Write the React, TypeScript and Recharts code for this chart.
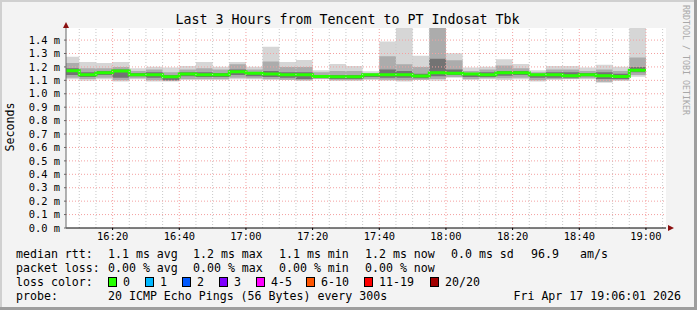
import { ComposedChart, Area, Line, XAxis, YAxis, CartesianGrid, ReferenceLine } from 'recharts';

const FONT = '"DejaVu Sans Mono", monospace';

// 5 minute bins, start time of each
const binStart = [
	'16:05', '16:10', '16:15', '16:20', '16:25', '16:30', '16:35', '16:40', '16:45', '16:50', '16:55',
	'17:00', '17:05', '17:10', '17:15', '17:20', '17:25', '17:30', '17:35', '17:40', '17:45', '17:50', '17:55',
	'18:00', '18:05', '18:10', '18:15', '18:20', '18:25', '18:30', '18:35', '18:40', '18:45', '18:50', '18:55',
];
const binEnd = '19:00';

// rtt in ms
const rttMax = [1.276, 1.236, 1.229, 1.236, 1.191, 1.201, 1.196, 1.206, 1.236, 1.201, 1.236, 1.201, 1.35, 1.236, 1.251, 1.176, 1.221, 1.206, 1.167, 1.39, 1.494, 1.283, 1.494, 1.301, 1.196, 1.201, 1.258, 1.221, 1.176, 1.206, 1.206, 1.196, 1.216, 1.201, 1.49];
const rttHi2 = [1.23, 1.19, 1.19, 1.2, 1.17, 1.18, 1.16, 1.18, 1.19, 1.18, 1.22, 1.18, 1.24, 1.2, 1.2, 1.16, 1.17, 1.17, 1.155, 1.28, 1.22, 1.2, 1.494, 1.25, 1.17, 1.18, 1.21, 1.19, 1.16, 1.18, 1.18, 1.17, 1.18, 1.17, 1.27];
const rttHi3 = [1.19, 1.16, 1.17, 1.18, 1.155, 1.16, 1.14, 1.16, 1.16, 1.155, 1.18, 1.16, 1.17, 1.16, 1.16, 1.14, 1.14, 1.14, 1.148, 1.18, 1.17, 1.15, 1.26, 1.18, 1.155, 1.16, 1.17, 1.17, 1.15, 1.16, 1.16, 1.155, 1.16, 1.15, 1.2];
const rttMedian = [1.171, 1.142, 1.157, 1.169, 1.142, 1.142, 1.127, 1.147, 1.142, 1.142, 1.164, 1.152, 1.147, 1.142, 1.142, 1.129, 1.127, 1.127, 1.142, 1.142, 1.142, 1.132, 1.157, 1.152, 1.147, 1.142, 1.157, 1.157, 1.142, 1.142, 1.135, 1.142, 1.135, 1.129, 1.176];
const rttLo3 = [1.14, 1.125, 1.14, 1.12, 1.13, 1.12, 1.1, 1.13, 1.125, 1.125, 1.14, 1.13, 1.125, 1.12, 1.11, 1.12, 1.11, 1.11, 1.125, 1.12, 1.12, 1.115, 1.13, 1.14, 1.125, 1.125, 1.135, 1.14, 1.12, 1.12, 1.12, 1.13, 1.11, 1.11, 1.16];
const rttLo2 = [1.12, 1.11, 1.12, 1.1, 1.115, 1.1, 1.095, 1.11, 1.11, 1.11, 1.12, 1.115, 1.11, 1.105, 1.1, 1.11, 1.1, 1.1, 1.11, 1.105, 1.1, 1.105, 1.11, 1.125, 1.11, 1.115, 1.115, 1.12, 1.1, 1.11, 1.11, 1.115, 1.09, 1.1, 1.14];
const rttMin = [1.109, 1.097, 1.109, 1.092, 1.109, 1.092, 1.092, 1.102, 1.102, 1.102, 1.109, 1.109, 1.102, 1.102, 1.097, 1.109, 1.097, 1.097, 1.102, 1.097, 1.092, 1.102, 1.097, 1.12, 1.102, 1.109, 1.102, 1.109, 1.092, 1.102, 1.109, 1.109, 1.082, 1.097, 1.127];

const xTickLabels = ['16:20', '16:40', '17:00', '17:20', '17:40', '18:00', '18:20', '18:40', '19:00'];
const yTicks = [0, 0.1, 0.2, 0.3, 0.4, 0.5, 0.6, 0.7, 0.8, 0.9, 1.0, 1.1, 1.2, 1.3, 1.4];

const rttStats = ['1.1 ms avg', '1.2 ms max', '1.1 ms min', '1.2 ms now', '0.0 ms sd', '96.9', 'am/s'];
const lossStats = ['0.00 % avg', '0.00 % max', '0.00 % min', '0.00 % now'];
const lossLabels = ['0', '1', '2', '3', '4-5', '6-10', '11-19', '20/20'];
const lossColors = ['#26ff00', '#00b8ff', '#0059ff', '#7e00ff', '#ff00ff', '#ff5500', '#ff0000', '#a10000'];
const probeText = '20 ICMP Echo Pings (56 Bytes) every 300s';
const stampText = 'Fri Apr 17 19:06:01 2026';

// minutes since 16:00
function toMin(s: string) {
	const [h, m] = s.split(':').map(Number);
	return (h - 16) * 60 + m;
}
function fmtMin(v: number) {
	const h = 16 + Math.floor(v / 60);
	const m = Math.round(v % 60);
	return `${h}:${m < 10 ? '0' + m : m}`;
}

const rows = binStart.map((s, i) => ({
	t: toMin(s),
	outer: [rttMin[i], rttMax[i]],
	mid: [rttLo2[i], rttHi2[i]],
	core: [rttLo3[i], rttHi3[i]],
	med: rttMedian[i],
}));
// closing point so the last step has a width
const chartData = [...rows, { ...rows[rows.length - 1], t: toMin(binEnd) }];

const xStart = 6 + 1 / 60;
const xEnd = 186 + 1 / 60;
const xTicks = xTickLabels.map(toMin);

const minorX: number[] = [];
for (let m = 10; m <= 185; m += 5) if (m % 20 !== 0) minorX.push(m);

const statX = [108, 193, 279, 365, 451, 531, 580];
const boxX = [108, 145, 182, 219, 256, 306, 364, 430];

export default function App() {
	return (
		<div style={{ position: 'absolute', left: 0, top: 0, width: 697, height: 310, background: '#f3f3f3' }}>
			<ComposedChart
				width={697}
				height={310}
				data={chartData}
				margin={{ top: 28, right: 31, bottom: 62, left: 6 }}>
				<CartesianGrid
					horizontal={false}
					vertical={false}
					fill='#ffffff'
				/>
				<XAxis
					dataKey='t'
					type='number'
					domain={[xStart, xEnd]}
					allowDataOverflow
					ticks={xTicks}
					interval={0}
					tickFormatter={fmtMin}
					height={20}
					tickSize={2}
					tickMargin={3}
					stroke='#000'
					tick={{ fontFamily: FONT, fontSize: 10.4, fill: '#000' }}
				/>
				<YAxis
					type='number'
					domain={[0, 1.49]}
					allowDataOverflow
					ticks={yTicks}
					interval={0}
					tickFormatter={(v: number) => `${v.toFixed(1)} m`}
					width={60}
					tickSize={2}
					tickMargin={4}
					stroke='#666'
					tick={{ fontFamily: FONT, fontSize: 10.4, fill: '#000' }}
				/>
				<Area
					dataKey='outer'
					type='stepAfter'
					stroke='none'
					fill='#d6d6d6'
					fillOpacity={1}
					isAnimationActive={false}
				/>
				<Area
					dataKey='mid'
					type='stepAfter'
					stroke='none'
					fill='#acacac'
					fillOpacity={1}
					isAnimationActive={false}
				/>
				<Area
					dataKey='core'
					type='stepAfter'
					stroke='none'
					fill='#737373'
					fillOpacity={1}
					isAnimationActive={false}
				/>
				<Line
					dataKey='med'
					type='stepAfter'
					stroke='#26ff00'
					strokeWidth={3}
					dot={false}
					activeDot={false}
					isAnimationActive={false}
				/>
				{minorX.map((m) => (
					<ReferenceLine
						key={'mx' + m}
						x={m}
						stroke='#c8c8c8'
						strokeDasharray='1 2'
					/>
				))}
				{xTicks.map((m) => (
					<ReferenceLine
						key={'Mx' + m}
						x={m}
						stroke='#f4a0a0'
						strokeDasharray='1 2'
					/>
				))}
				{yTicks.slice(1).map((v) => (
					<ReferenceLine
						key={'My' + v}
						y={v}
						stroke='#f4a0a0'
						strokeDasharray='1 2'
					/>
				))}
			</ComposedChart>
			<svg
				width={697}
				height={310}
				style={{ position: 'absolute', left: 0, top: 0, pointerEvents: 'none' }}
				fontFamily={FONT}>
				<rect x={0} y={0} width={697} height={2} fill='#d0d0d0' />
				<rect x={0} y={0} width={2} height={310} fill='#d0d0d0' />
				<rect x={694} y={0} width={3} height={310} fill='#9e9e9e' />
				<rect x={0} y={307} width={697} height={3} fill='#9e9e9e' />
				<polygon points='63,28 69,28 66,22' fill='#8b1010' />
				<polygon points='668,225 668,231 674,228' fill='#8b1010' />
				<text
					x={347.5}
					y={19}
					fontSize={13.3}
					textAnchor='middle'
					dominantBaseline='central'>
					Last 3 Hours from Tencent to PT Indosat Tbk
				</text>
				<text
					x={10}
					y={127}
					fontSize={11.6}
					textAnchor='middle'
					dominantBaseline='central'
					transform='rotate(-90 10 127)'>
					Seconds
				</text>
				<text
					x={686}
					y={5}
					fontSize={8.3}
					fill='#a8a8a8'
					dominantBaseline='central'
					transform='rotate(90 686 5)'>
					RRDTOOL / TOBI OETIKER
				</text>
				<g fontSize={11.6} dominantBaseline='central'>
					<text x={16} y={254}>median rtt:</text>
					{rttStats.map((s, i) => (
						<text key={s + i} x={statX[i]} y={254}>{s}</text>
					))}
					<text x={16} y={268}>packet loss:</text>
					{lossStats.map((s, i) => (
						<text key={s + i} x={statX[i]} y={268}>{s}</text>
					))}
					<text x={16} y={282}>loss color:</text>
					{lossLabels.map((s, i) => (
						<g key={s}>
							<rect x={boxX[i] + 0.5} y={277.5} width={8} height={9} fill={lossColors[i]} stroke='#000' />
							<text x={boxX[i] + 15} y={282}>{s}</text>
						</g>
					))}
					<text x={16} y={296}>probe:</text>
					<text x={108} y={296}>{probeText}</text>
					<text x={681} y={296} textAnchor='end'>{stampText}</text>
				</g>
			</svg>
		</div>
	);
}
